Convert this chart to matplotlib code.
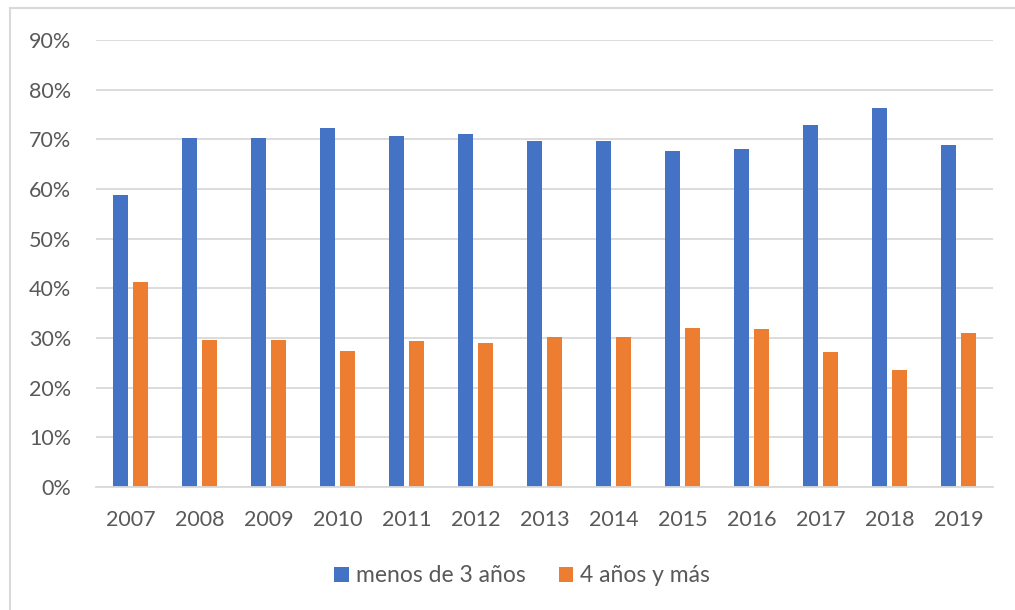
import matplotlib
matplotlib.use("Agg")
import matplotlib.pyplot as plt
import numpy as np
from matplotlib.patches import Patch
from matplotlib.lines import Line2D
from matplotlib.ticker import FuncFormatter, MultipleLocator

years = ["2007", "2008", "2009", "2010", "2011", "2012", "2013",
         "2014", "2015", "2016", "2017", "2018", "2019"]
menos_3 = [58.7, 70.3, 70.3, 72.3, 70.7, 71.1, 69.6, 69.6, 67.7, 68.1, 72.8, 76.3, 68.8]
cuatro_mas = [41.3, 29.5, 29.6, 27.4, 29.3, 28.9, 30.3, 30.3, 32.1, 31.9, 27.2, 23.6, 31.0]
series_names = ["menos de 3 años", "4 años y más"]

blue = "#4472C4"
orange = "#ED7D31"
text_col = "#595959"
grid_col = "#D9D9D9"

plt.rcParams['font.family'] = ['Lato', 'DejaVu Sans']

fig = plt.figure(figsize=(10.15, 6.10), dpi=100)
ax = fig.add_axes([96/1015, 1-487/610, (993-96)/1015, (487-40)/610])

x = np.arange(len(years))
w = 0.225
off = 0.143
ax.bar(x - off, menos_3, width=w, color=blue, zorder=3, label=series_names[0])
ax.bar(x + off, cuatro_mas, width=w, color=orange, zorder=3, label=series_names[1])

ax.set_xlim(-0.5, len(years) - 0.5)
ax.set_ylim(0, 90)
ax.yaxis.set_major_locator(MultipleLocator(10))
ax.yaxis.set_major_formatter(FuncFormatter(lambda v, p: f"{v:.0f}%"))
ax.set_xticks(x)
ax.set_xticklabels(years)

ax.grid(axis='y', color=grid_col, linewidth=1.3, zorder=0)
for s in ['top', 'right', 'left']:
    ax.spines[s].set_visible(False)
ax.spines['bottom'].set_color(grid_col)
ax.spines['bottom'].set_linewidth(1.3)
ax.spines['bottom'].set_zorder(4)

ax.tick_params(axis='both', length=0, labelsize=15.5, colors=text_col)
ax.tick_params(axis='y', pad=18)
ax.tick_params(axis='x', pad=16.5)

handles = [Patch(facecolor=blue, edgecolor='none'), Patch(facecolor=orange, edgecolor='none')]
leg = fig.legend(handles, series_names, loc='center', bbox_to_anchor=(522/1015, 1-576/610),
                 ncol=2, frameon=False, fontsize=16.5, handlelength=0.62, handleheight=0.62,
                 handletextpad=0.3, columnspacing=1.45, labelcolor=text_col)

# chart frame (top and left edges)
fig.add_artist(Line2D([10/1015, 1.0], [1-8/610, 1-8/610], color=grid_col, linewidth=1.5,
                      transform=fig.transFigure))
fig.add_artist(Line2D([10/1015, 10/1015], [0, 1-8/610], color=grid_col, linewidth=1.5,
                      transform=fig.transFigure))

fig.savefig("out.png", dpi=100, facecolor="white")
